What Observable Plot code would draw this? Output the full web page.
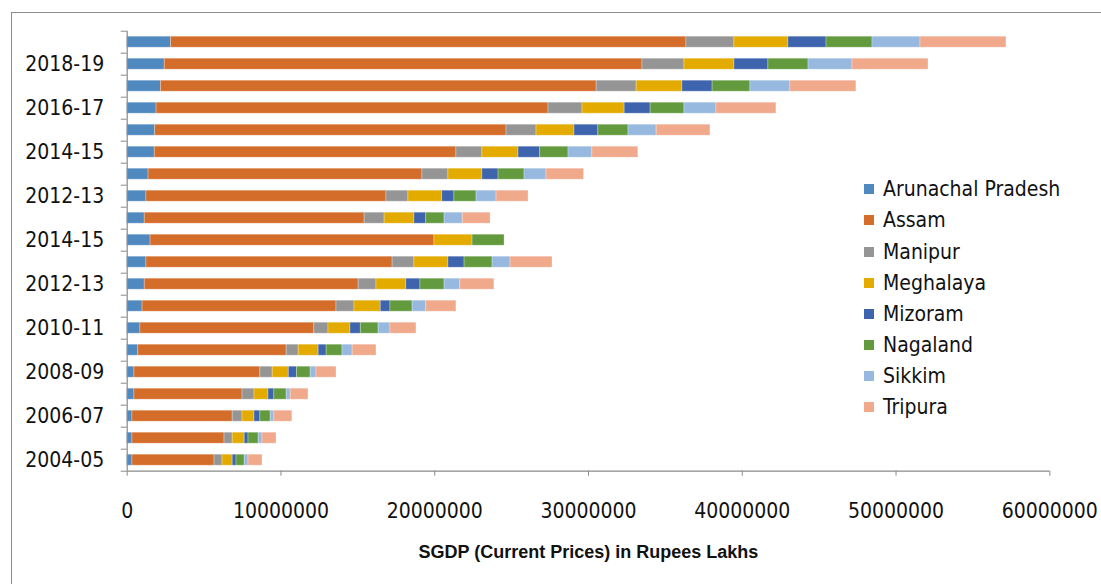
<!DOCTYPE html>
<html>
<head>
<meta charset="utf-8">
<script src="https://cdn.jsdelivr.net/npm/d3@7"></script>
<script src="https://cdn.jsdelivr.net/npm/@observablehq/plot@0.6"></script>
<style>
  html, body { margin: 0; padding: 0; background: #fff; overflow: hidden; }
  #chart {
    position: relative; width: 1101px; height: 584px; overflow: hidden;
    font-family: "DejaVu Sans", "Liberation Sans", sans-serif; font-stretch: condensed;
  }
  #chart svg { position: absolute; left: 0; top: 0; font-stretch: condensed; }
  #frame {
    position: absolute; left: 10.5px; top: 11.5px; width: 1300px; height: 800px;
    border-left: 1.5px solid #8c8c8c; border-top: 1.5px solid #8c8c8c;
  }
  .legend-item {
    position: absolute; left: 864px; height: 31px; display: flex; align-items: center;
    font-size: 21px; color: #111; white-space: nowrap;
  }
  .legend-item .swatch { width: 10px; height: 10px; margin-right: 9px; flex: none; }
</style>
</head>
<body>
<div id="chart"><div id="frame"></div></div>
<script>
// Row labels, bottom to top (only every other one is printed on the axis)
const rowLabels = [
  "2004-05", "2005-06", "2006-07", "2007-08", "2008-09", "2009-10", "2010-11",
  "2011-12", "2012-13", "2013-14", "2014-15",
  "2011-12", "2012-13", "2013-14", "2014-15", "2015-16", "2016-17", "2017-18",
  "2018-19", "2019-20"
];
const labelledRows = [0, 2, 4, 6, 8, 10, 12, 14, 16, 18];

const states = ["Arunachal Pradesh", "Assam", "Manipur", "Meghalaya", "Mizoram", "Nagaland", "Sikkim", "Tripura"];
const stateColors = ["#4f89c0", "#d56d2a", "#959595", "#e3aa00", "#3d64ad", "#629a3d", "#97b9e0", "#f1a98b"];

// SGDP at current prices, Rupees lakhs, one value per row (bottom to top)
const arunachal = [340000, 340000, 340000, 470000, 470000, 720000, 860000, 1000000, 1140000, 1250000,
                   1520000, 1140000, 1250000, 1390000, 1790000, 1820000, 1910000, 2190000, 2440000, 2850000];
const assam     = [5340000, 5990000, 6520000, 7030000, 8190000, 9650000, 11310000, 12610000, 13910000, 16010000,
                   18460000, 14300000, 15610000, 17810000, 19620000, 22850000, 25490000, 28340000, 31070000, 33520000];
const manipur   = [520000, 530000, 640000, 780000, 800000, 780000, 920000, 1170000, 1160000, 1420000,
                   0, 1300000, 1430000, 1690000, 1690000, 1950000, 2210000, 2600000, 2730000, 3120000];
const meghalaya = [660000, 780000, 780000, 910000, 1050000, 1300000, 1430000, 1710000, 1940000, 2210000,
                   2480000, 1940000, 2200000, 2210000, 2350000, 2470000, 2740000, 2980000, 3250000, 3510000];
const mizoram   = [250000, 250000, 380000, 380000, 530000, 520000, 670000, 630000, 920000, 1050000,
                   0, 770000, 790000, 1050000, 1410000, 1550000, 1690000, 1960000, 2210000, 2480000];
const nagaland  = [530000, 660000, 670000, 800000, 890000, 1030000, 1160000, 1440000, 1570000, 1820000,
                   2080000, 1190000, 1440000, 1690000, 1840000, 1960000, 2200000, 2460000, 2610000, 2990000];
const sikkim    = [250000, 250000, 240000, 260000, 380000, 660000, 770000, 890000, 1020000, 1170000,
                   0, 1180000, 1300000, 1430000, 1550000, 1830000, 2080000, 2600000, 2860000, 3120000];
const tripura   = [910000, 910000, 1170000, 1160000, 1300000, 1550000, 1690000, 1960000, 2220000, 2730000,
                   0, 1810000, 2080000, 2440000, 2990000, 3500000, 3900000, 4290000, 4940000, 5590000];

const xTicks = [0, 10000000, 20000000, 30000000, 40000000, 50000000, 60000000];
const xTitle = "SGDP (Current Prices) in Rupees Lakhs";

const series = [arunachal, assam, manipur, meghalaya, mizoram, nagaland, sikkim, tripura];
const table = [];
rowLabels.forEach((label, row) => {
  states.forEach((state, k) => {
    const value = series[k][row];
    if (value > 0) table.push({row, label, state, value});
  });
});

const axisGrey = "#8a8a8a";
const font = '"DejaVu Sans", "Liberation Sans", sans-serif';

const chart = Plot.plot({
  width: 1101,
  height: 584,
  marginLeft: 126.7,
  marginRight: 51.7,
  marginTop: 30.7,
  marginBottom: 113.3,
  style: {fontFamily: font, fontSize: "21px", color: "#111", background: "transparent", overflow: "visible"},
  x: {domain: [0, 60000000]},
  y: {domain: [0, 20]},
  color: {domain: states, range: stateColors},
  marks: [
    Plot.rectX(table, Plot.stackX({
      y1: d => d.row + 0.25,
      y2: d => d.row + 0.75,
      x: "value",
      fill: "state",
      order: states,
      stroke: "#ffffff",
      strokeOpacity: 0.35,
      strokeWidth: 0.8
    })),
    Plot.ruleX([0], {stroke: axisGrey, strokeWidth: 1.2}),
    Plot.ruleY([0], {stroke: axisGrey, strokeWidth: 1.2}),
    Plot.axisX({
      ticks: xTicks, tickFormat: d3.format("d"), tickSize: 5, tickPadding: 27,
      stroke: axisGrey, fill: "#111", label: null
    }),
    Plot.axisY({
      ticks: d3.range(21), tickFormat: () => "", tickSize: 6, stroke: axisGrey, label: null
    }),
    Plot.axisY({
      ticks: labelledRows.map(i => i + 0.5), tickFormat: v => rowLabels[Math.round(v - 0.5)],
      tickSize: 0, tickPadding: 23, fill: "#111", label: null
    }),
    Plot.text([xTitle], {
      frameAnchor: "bottom", dy: 87, fontWeight: "bold", fontSize: 18,
      fontFamily: '"Liberation Sans", Arial, sans-serif', fill: "#111"
    })
  ]
});

const root = document.getElementById("chart");
root.appendChild(chart);

// Legend to the right of the bars
states.forEach((state, i) => {
  const item = document.createElement("div");
  item.className = "legend-item";
  item.style.top = (189.3 + 31.1 * i - 15.5) + "px";
  const sw = document.createElement("span");
  sw.className = "swatch";
  sw.style.background = stateColors[i];
  const tx = document.createElement("span");
  tx.textContent = state;
  item.appendChild(sw);
  item.appendChild(tx);
  root.appendChild(item);
});
</script>
</body>
</html>
